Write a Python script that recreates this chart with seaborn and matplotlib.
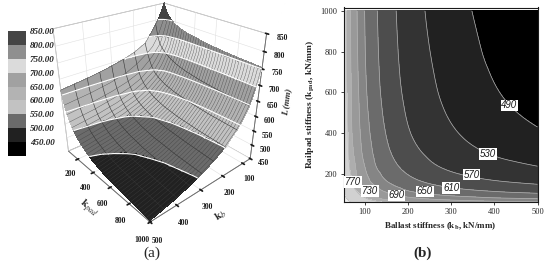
import numpy as np
import matplotlib
matplotlib.use("Agg")
import matplotlib.pyplot as plt
import matplotlib.tri as mtri
from matplotlib.colors import ListedColormap, BoundaryNorm
from matplotlib.patches import Rectangle
import seaborn as sns

# ballast stiffness, railpad stiffness (kN/mm)
ks = [50, 55, 60, 70, 85, 100, 125, 150, 200, 250, 320, 400, 500]
kpad = [60, 70, 80, 95, 115, 140, 180, 230, 300, 400, 550, 750, 1000]
# L (mm), one row per kpad
L = [
    [883, 872, 862, 845, 821, 803, 781, 762, 731, 719, 708, 700, 693],
    [874, 862, 851, 830, 805, 786, 758, 732, 712, 699, 686, 675, 665],
    [866, 854, 841, 819, 792, 772, 735, 718, 696, 680, 664, 651, 643],
    [857, 843, 829, 805, 777, 748, 718, 701, 674, 655, 640, 629, 620],
    [848, 832, 817, 792, 759, 727, 703, 683, 650, 634, 619, 607, 597],
    [839, 822, 807, 780, 739, 715, 688, 663, 633, 616, 599, 586, 575],
    [829, 811, 795, 766, 723, 701, 668, 643, 615, 595, 577, 563, 552],
    [822, 803, 786, 752, 714, 690, 652, 630, 599, 578, 559, 545, 532],
    [815, 796, 778, 739, 705, 678, 641, 618, 585, 564, 543, 527, 513],
    [809, 789, 772, 729, 698, 668, 632, 608, 573, 551, 529, 511, 494],
    [804, 784, 764, 724, 692, 659, 624, 599, 563, 540, 516, 496, 477],
    [801, 780, 758, 720, 686, 652, 618, 592, 556, 532, 506, 485, 467],
    [799, 778, 754, 717, 682, 648, 614, 588, 551, 525, 499, 475, 455],
]

surf_levels = [400, 450, 500, 550, 600, 650, 700, 750, 800, 850]
surf_greys = [0.0, 0.13, 0.42, 0.76, 0.70, 0.63, 0.86, 0.56, 0.27]
surf_ticks = [450, 500, 550, 600, 650, 700, 750, 800, 850]
mesh_ks = [100, 150, 200, 250, 300, 350, 400, 450]
mesh_kpad_step = 25

map_levels = [400, 490, 530, 570, 610, 650, 690, 730, 770, 850, 900]
map_greys = [0.0, 0.13, 0.2, 0.3, 0.42, 0.52, 0.6, 0.68, 0.82, 0.93]
line_levels = [490, 530, 570, 610, 650, 690, 730, 770, 850]
label_vals = [490, 530, 570, 610, 650, 690, 730, 770]
label_x = [435, 385, 347, 300, 239, 173, 112, 73]
label_y = [535, 298, 195, 130, 112, 92, 115, 158]

sns.set_theme(style="white")
plt.rcParams["font.family"] = ["Liberation Serif", "DejaVu Serif"]
plt.rcParams["mathtext.fontset"] = "stix"

surf_cmap = ListedColormap(sns.color_palette([str(g) for g in surf_greys]))
surf_norm = BoundaryNorm(surf_levels, surf_cmap.N)
map_cmap = ListedColormap(sns.color_palette([str(g) for g in map_greys]))
map_norm = BoundaryNorm(map_levels, map_cmap.N)

ks_arr = np.array(ks, dtype=float)
kpad_arr = np.array(kpad, dtype=float)
L_arr = np.array(L, dtype=float)

fig = plt.figure(figsize=(5.5, 2.64), dpi=100)
W, H = 550.0, 264.0

# (a) surface
ax = fig.add_axes([4 / W, 1 - 252 / H, 300 / W, 300 / H], projection="3d", computed_zorder=False)
ax.patch.set_visible(False)
ax.set_proj_type("persp", focal_length=0.25)
ax.view_init(elev=28, azim=49)
ax.set_box_aspect((1.0, 1.0, 1.0), zoom=0.78)

# the surface starts a little inside the table edges
sub_x, sub_y = np.meshgrid(ks_arr[2:], kpad_arr[1:])
sub_z = L_arr[1:, 2:]
tri = mtri.Triangulation(sub_x.ravel(), sub_y.ravel())
interp = mtri.LinearTriInterpolator(tri, sub_z.ravel())
fine, fine_z = mtri.UniformTriRefiner(tri).refine_field(sub_z.ravel(), interp, subdiv=3)
ax.plot_trisurf(fine, fine_z, cmap=surf_cmap, norm=surf_norm, linewidth=0, antialiased=False, zorder=1)

along_pad = np.arange(70, 1001, 10.0)
along_ks = np.arange(60, 501, 5.0)
for k in mesh_ks:
    xs = np.full_like(along_pad, k)
    ax.plot(xs, along_pad, interp(xs, along_pad), color="0.2", lw=0.4, zorder=2)
for p in np.arange(70, 1001, mesh_kpad_step):
    ys = np.full_like(along_ks, p)
    ax.plot(along_ks, ys, interp(along_ks, ys), color="0.25", lw=0.25, zorder=2)
ax.tricontour(fine, fine_z, levels=surf_ticks, colors="white", linewidths=0.8, zorder=3)

ax.set_xlim(60, 500)
ax.set_ylim(70, 1000)
ax.set_zlim(450, 850)
ax.set_xticks([100, 200, 300, 400, 500])
ax.set_yticks([200, 400, 600, 800, 1000])
ax.set_zticks([450, 500, 550, 600, 650, 700, 750, 800, 850])
ax.tick_params(labelsize=5.5, pad=0, length=2, colors="0.1")
for a in (ax.xaxis, ax.yaxis, ax.zaxis):
    a.set_pane_color((1, 1, 1, 1))
    a._axinfo["grid"]["color"] = "0.88"
    a._axinfo["grid"]["linewidth"] = 0.4
    a.line.set_color("0.4")
    a.line.set_linewidth(0.6)
    a.pane.set_edgecolor("0.55")
    a.pane.set_linewidth(0.5)
    for lab in a.get_ticklabels():
        lab.set_fontweight("bold")
ax.zaxis.set_ticks_position("upper")
ax.zaxis.set_label_position("upper")
ax.set_xlabel(r"$\mathbf{k}_{b}$", fontsize=8, labelpad=-4)
ax.set_ylabel(r"$\mathbf{k}_{pad}$", fontsize=8, labelpad=-4)
ax.set_zlabel("L (mm)", fontsize=6.5, labelpad=-5, fontweight="bold", fontstyle="italic")

# legend strip for the surface
leg = fig.add_axes([7.5 / W, 1 - 156 / H, 18 / W, 125 / H])
leg.set_xlim(0, 1)
leg.set_ylim(400, 850)
for i in range(len(surf_greys)):
    leg.add_patch(Rectangle((0, surf_levels[i]), 1, 50, color=str(surf_greys[i]), lw=0))
leg.set_xticks([])
leg.yaxis.tick_right()
leg.set_yticks(surf_ticks)
leg.set_yticklabels([f"{v:.2f}" for v in surf_ticks], fontsize=6.5, fontweight="bold", fontstyle="italic")
leg.tick_params(axis="y", length=0, pad=3)
sns.despine(ax=leg, left=True, right=True, top=True, bottom=True)

# (b) contour map
ax2 = fig.add_axes([343.5 / W, 1 - 202 / H, 194 / W, 194.5 / H])
map_tri = mtri.Triangulation(*[m.ravel() for m in np.meshgrid(ks_arr, kpad_arr)])
map_interp = mtri.CubicTriInterpolator(map_tri, L_arr.ravel(), kind="geom")
mf, mf_z = mtri.UniformTriRefiner(map_tri).refine_field(L_arr.ravel(), map_interp, subdiv=3)
ax2.tricontourf(mf, mf_z, levels=map_levels, cmap=map_cmap, norm=map_norm)
ax2.tricontour(mf, mf_z, levels=line_levels, colors="0.7", linewidths=0.5)
ax2.set_xlim(50, 500)
ax2.set_ylim(60, 1017)
ax2.set_xticks([100, 200, 300, 400, 500])
ax2.set_yticks([200, 400, 600, 800, 1000])
ax2.tick_params(labelsize=6, length=2.5, width=0.6, pad=2, colors="0.15", bottom=True, left=True)
for s in ax2.spines.values():
    s.set_linewidth(0.8)
    s.set_color("0.1")
ax2.set_xlabel(r"Ballast stiffness (k$_{\mathbf{b}}$, kN/mm)", fontsize=6.5, fontweight="bold", labelpad=3)
ax2.set_ylabel(r"Railpad stiffness (k$_{\mathbf{pad}}$, kN/mm)", fontsize=6.8, fontweight="bold", labelpad=3)
for v, x, y in zip(label_vals, label_x, label_y):
    ax2.text(x, y, str(v), family="Liberation Sans", style="italic", fontsize=7, color="0.1",
             ha="center", va="center", bbox=dict(fc="white", ec="none", pad=0.6))

fig.text(152 / W, 1 - 253 / H, "(a)", fontsize=11, ha="center", va="center")
fig.text(423 / W, 1 - 253 / H, "(b)", fontsize=11, fontweight="bold", ha="center", va="center")

fig.savefig("out.png", dpi=100)
